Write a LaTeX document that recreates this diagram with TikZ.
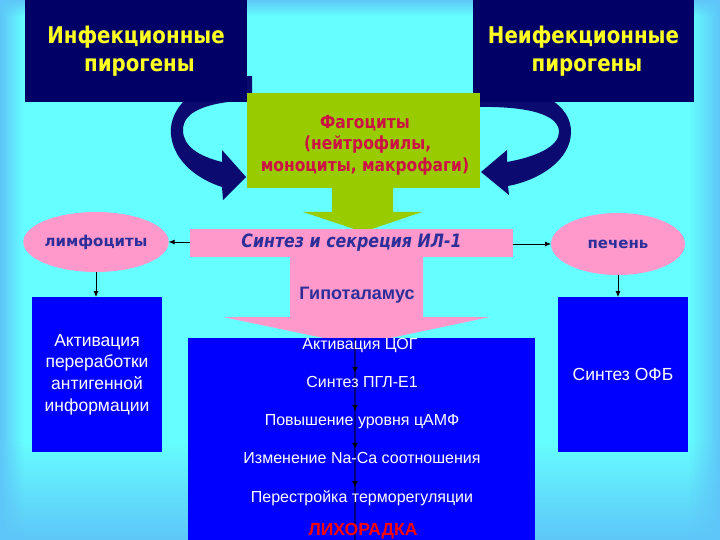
\documentclass[tikz,border=0pt]{standalone}
\usepackage{fontspec}
\setmainfont{Liberation Sans}
\newfontfamily\comic{DejaVu Sans}[BoldFont={DejaVu Sans Bold}]
\newfontfamily\comicx{DejaVu Sans Bold}[FakeStretch=0.86]
\newfontfamily\comicxi{DejaVu Sans Bold Oblique}[FakeStretch=0.86]
\usetikzlibrary{arrows.meta,calc,shapes.geometric,fadings}
\tikzfading[name=fadeD, top color=transparent!0, bottom color=transparent!100]
\tikzfading[name=fadeU, top color=transparent!100, bottom color=transparent!0]
\tikzfading[name=fadeR, left color=transparent!0, right color=transparent!100]
\tikzfading[name=fadeL, left color=transparent!100, right color=transparent!0]
\definecolor{bgcyan}{HTML}{66FFFF}
\definecolor{bgedge}{HTML}{5EC6F8}
\definecolor{navy}{HTML}{000066}
\definecolor{ribbon}{HTML}{0A0A70}
\definecolor{lime}{HTML}{99CC00}
\definecolor{rose}{HTML}{FF99CC}
\definecolor{ink}{HTML}{2E2E99}
\definecolor{crim}{HTML}{CC1144}
\definecolor{bright}{HTML}{0000FF}
\definecolor{yel}{HTML}{FFFF22}
\definecolor{spinec}{HTML}{000080}
\begin{document}
\begin{tikzpicture}[x=1pt,y=-1pt,
  plain/.style={inner sep=0pt, outer sep=0pt},
  navybox/.style={plain, fill=navy, text=yel, align=center, font=\comicx\fontsize{23}{28.5}\selectfont},
  bluebox/.style={plain, fill=bright, text=white, align=center, font=\fontsize{17.5}{21.7}\selectfont},
  oval/.style={ellipse, plain, fill=rose, text=ink, font=\comic\bfseries\fontsize{15}{18}\selectfont},
  steptext/.style={plain, anchor=base, text=white, font=\fontsize{16}{19}\selectfont},
  link/.style={draw=black, line width=0.8pt, -{Latex[length=6pt,width=5pt]}},
  chainarrow/.style={draw=spinec, line width=1.5pt, shorten >=3pt, -{Latex[length=6pt,width=6pt,fill=black,color=black]}},
  spineline/.style={draw=spinec, line width=1.5pt}]
\useasboundingbox (0,0) rectangle (720,540);
\clip (0,0) rectangle (720,540);
% background
\fill[bgcyan] (0,0) rectangle (720,540);
\fill[bgedge, path fading=fadeD] (0,0) rectangle (720,16);
\fill[bgedge, path fading=fadeU] (0,440) rectangle (720,540);
\fill[bgedge, path fading=fadeR] (0,0) rectangle (24,540);
\fill[bgedge, path fading=fadeL] (688,0) rectangle (720,540);
% curved ribbon arrows
\fill[ribbon] (252,76) .. controls (200,78) and (168,105) .. (171,135)
  .. controls (174,163) and (200,180) .. (222,187) -- (223,200) -- (246,177) -- (222,150) -- (222,162)
  .. controls (198,156) and (183,146) .. (183,130) .. controls (183,112) and (205,102) .. (252,100) -- cycle;
\fill[ribbon] (476,83) .. controls (540,84) and (572,105) .. (571,133)
  .. controls (570,160) and (540,180) .. (508,186) -- (509,195) -- (481,172) -- (507,150) -- (507,162)
  .. controls (535,157) and (559,147) .. (559,132) .. controls (559,115) and (530,106) .. (476,107) -- cycle;
% top boxes
\node[navybox, minimum width=222pt, minimum height=102pt] (inf) at (136,51) {Инфекционные\\\ пирогены};
\node[navybox, minimum width=221pt, minimum height=102pt] (noninf) at (583.5,51) {Неифекционные\\\ пирогены};
% green arrow and box
\fill[lime] (332,186) -- (393,186) -- (393,212) -- (422,212) -- (363,232) -- (303,212) -- (332,212) -- cycle;
\node[plain, fill=lime, minimum width=233pt, minimum height=95pt] (phag) at (363.5,140.5) {};
\node[plain, text=crim, align=center, font=\comicx\fontsize{18}{21.5}\selectfont] (phagtext) at (365,145)
  {Фагоциты\\\ (нейтрофилы,\\моноциты, макрофаги)};
% pink arrow and IL-1 box
\fill[rose] (290,256) -- (423,256) -- (423,317) -- (490,317) -- (357,345) -- (223,317) -- (290,317) -- cycle;
\node[plain, fill=rose, text=ink, minimum width=323pt, minimum height=28pt,
  font=\comicxi\fontsize{18.4}{20}\selectfont] (il1) at (351.5,243) {Синтез и секреция ИЛ-1};
\node[plain, text=ink, font=\bfseries\fontsize{18}{21}\selectfont] (hyp) at (357,295) {Гипоталамус};
% ellipses
\node[oval, minimum width=128pt, minimum height=60pt] (lymph) at (96,242) {лимфоциты};
\node[oval, minimum width=134pt, minimum height=62pt] (liver) at (618,244) {печень};
% side boxes
\node[bluebox, minimum width=130pt, minimum height=155pt] (leftbox) at (97,374.5) {Активация\\переработки\\антигенной\\информации};
\node[bluebox, minimum width=130pt, minimum height=155pt] (rightbox) at (623,374.5) {Синтез ОФБ};
% connectors
\draw[link] (il1.west |- lymph.east) -- (lymph.east);
\draw[link] (il1.east |- liver.west) -- (liver.west);
\draw[link] (lymph.south) -- (lymph.south |- leftbox.north);
\draw[link] (liver.south) -- (liver.south |- rightbox.north);
% middle box with chain
\node[plain, fill=bright, minimum width=347pt, minimum height=210pt, anchor=north west] (midbox) at (188,338) {};
\coordinate (spine) at (355,338);
\draw[spineline] (spine) -- (spine |- midbox.south);
\node[steptext] (l1) at (360,349) {Активация ЦОГ};
\node[steptext] (l2) at (362,387) {Синтез ПГЛ-Е1};
\node[steptext] (l3) at (362,425) {Повышение уровня цАМФ};
\node[steptext] (l4) at (362,463) {Изменение Na-Ca соотношения};
\node[steptext] (l5) at (362,502) {Перестройка терморегуляции};
\node[plain, anchor=base, text=red, font=\bfseries\fontsize{17.5}{20}\selectfont] (l6) at (363,535) {ЛИХОРАДКА};
\draw[chainarrow] (l1.south -| spine) -- (l2.north -| spine);
\draw[chainarrow] (l2.south -| spine) -- (l3.north -| spine);
\draw[chainarrow] (l3.south -| spine) -- (l4.north -| spine);
\draw[chainarrow] (l4.south -| spine) -- (l5.north -| spine);
\end{tikzpicture}
\end{document}
